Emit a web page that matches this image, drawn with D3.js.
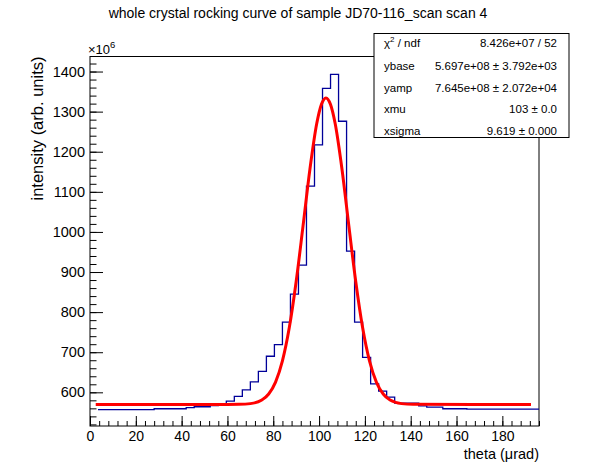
<!DOCTYPE html>
<html>
<head>
<meta charset="utf-8">
<script src="https://cdn.jsdelivr.net/npm/d3@7"></script>
<style>
  body { margin: 0; background: #fff; }
  svg { font-family: "Liberation Sans", Arial, sans-serif; }
</style>
</head>
<body>
<div id="chart"></div>
<script>
/* CONSTANTS AND GLOBALS */
const width = 598,
  height = 474,
  margin = { top: 56.5, bottom: 48, left: 90, right: 59 };

/* DATA */
// histogram: 56 bins of 3.5 µrad, contents in units of 10^6 (first bin empty)
const binWidth = 3.5;
const counts = [
  null, 557, 557, 557, 557, 557, 557, 557,
  559, 559, 559, 559, 562, 564, 564, 567,
  572, 578, 590, 606, 626, 652, 690, 719,
  775, 845, 917, 1114, 1217, 1358, 1393, 1276,
  952, 775, 687, 621, 603, 588, 573, 573,
  573, 566, 563, 563, 559, 559, 559, 558,
  558, 558, 558, 558, 558, 558, 558, 558
];

// fitted curve
const fitTheta = [2.5, 60, 65, 70, 75, 78, 81, 84, 87, 90, 93, 96, 99, 101, 103,
  105, 107, 110, 113, 116, 119, 122, 125, 128, 131, 136, 141, 192.5];
const fitValue = [569.7, 569.7, 570.0, 571.8, 580.7, 595.8, 625.6, 678.3, 761.4, 876.4, 1015.0, 1156.4, 1270.9, 1317.8, 1334.2,
  1317.8, 1270.9, 1156.4, 1015.0, 876.4, 761.4, 678.3, 625.6, 595.8, 580.7, 571.8, 570.0, 569.7];

// stats box
const statNames = ["ybase", "yamp", "xmu", "xsigma"];
const statValues = ["5.697e+08 \u00b1 3.792e+03", "7.645e+08 \u00b1 2.072e+04", "103 \u00b1 0.0", "9.619 \u00b1 0.000"];
const chi2ndf = "8.426e+07 / 52";

// ticks
const xTicks = [0, 20, 40, 60, 80, 100, 120, 140, 160, 180];
const yTicks = [600, 700, 800, 900, 1000, 1100, 1200, 1300, 1400];

/* SCALES */
const xScale = d3.scaleLinear()
  .domain([0, 196])
  .range([margin.left, width - margin.right]);

const yScale = d3.scaleLinear()
  .domain([516, 1437.5])
  .range([height - margin.bottom, margin.top]);

/* SVG */
const svg = d3.select("#chart")
  .append("svg")
  .attr("width", width)
  .attr("height", height);

// title
svg.append("text")
  .attr("x", 298)
  .attr("y", 18)
  .attr("text-anchor", "middle")
  .attr("font-size", 14)
  .text("whole crystal rocking curve of sample JD70-116_scan scan 4");

// x axis, ticks pointing into the frame
const xAxis = d3.axisBottom(xScale)
  .tickValues(xTicks)
  .tickSizeInner(-10)
  .tickSizeOuter(0)
  .tickPadding(5.5)
  .tickFormat(d3.format("d"));

const xMinor = d3.axisBottom(xScale)
  .tickValues(d3.range(0, 197, 4))
  .tickSizeInner(-5)
  .tickSizeOuter(0)
  .tickFormat("");

svg.append("g")
  .attr("class", "x-minor")
  .attr("transform", `translate(0,${height - margin.bottom})`)
  .call(xMinor);

svg.append("g")
  .attr("class", "axis x-axis")
  .attr("transform", `translate(0,${height - margin.bottom})`)
  .call(xAxis);

// y axis
const yAxis = d3.axisLeft(yScale)
  .tickValues(yTicks)
  .tickSizeInner(-13)
  .tickSizeOuter(0)
  .tickPadding(5)
  .tickFormat(d3.format("d"));

const yMinor = d3.axisLeft(yScale)
  .tickValues(d3.range(520, 1430, 20))
  .tickSizeInner(-6.5)
  .tickSizeOuter(0)
  .tickFormat("");

svg.append("g")
  .attr("class", "y-minor")
  .attr("transform", `translate(${margin.left},0)`)
  .call(yMinor);

svg.append("g")
  .attr("class", "axis y-axis")
  .attr("transform", `translate(${margin.left},0)`)
  .call(yAxis);

svg.selectAll(".domain").remove();
svg.selectAll(".tick line").attr("stroke", "#000");
svg.selectAll(".tick text")
  .attr("font-size", 14.5)
  .attr("font-family", "Liberation Sans, Arial, sans-serif")
  .attr("fill", "#000");
svg.selectAll(".x-axis .tick text").attr("font-size", 14);

// frame
svg.append("rect")
  .attr("x", margin.left)
  .attr("y", margin.top)
  .attr("width", width - margin.left - margin.right)
  .attr("height", height - margin.top - margin.bottom)
  .attr("fill", "none")
  .attr("stroke", "#000")
  .attr("stroke-width", 1);

// exponent label
const expo = svg.append("text")
  .attr("x", 88)
  .attr("y", 54)
  .attr("font-size", 13);
expo.append("tspan").text("\u00d710");
expo.append("tspan").attr("dy", -6).attr("font-size", 9.5).text("6");

// axis titles
svg.append("text")
  .attr("x", width - margin.right)
  .attr("y", 459)
  .attr("text-anchor", "end")
  .attr("font-size", 14.5)
  .text("theta (\u03bcrad)");

svg.append("text")
  .attr("transform", `translate(43,${margin.top}) rotate(-90)`)
  .attr("text-anchor", "end")
  .attr("font-size", 16.5)
  .text("intensity (arb. units)");

/* HISTOGRAM */
const histPoints = [];
counts.forEach((c, i) => {
  if (c !== null) histPoints.push([i * binWidth, c]);
});
histPoints.push([counts.length * binWidth, counts[counts.length - 1]]);

const stepLine = d3.line()
  .x(d => xScale(d[0]))
  .y(d => yScale(d[1]))
  .curve(d3.curveStepAfter);

svg.append("path")
  .datum(histPoints)
  .attr("fill", "none")
  .attr("stroke", "#000099")
  .attr("stroke-width", 1.3)
  .attr("d", stepLine);

/* FIT */
const fitLine = d3.line()
  .x((d, i) => xScale(fitTheta[i]))
  .y(d => yScale(d))
  .curve(d3.curveMonotoneX);

svg.append("path")
  .datum(fitValue)
  .attr("fill", "none")
  .attr("stroke", "#ff0000")
  .attr("stroke-width", 3)
  .attr("d", fitLine);

/* STATS BOX */
const box = { x: 374, y: 33.5, w: 195, h: 104 };
svg.append("rect")
  .attr("x", box.x)
  .attr("y", box.y)
  .attr("width", box.w)
  .attr("height", box.h)
  .attr("fill", "#fff")
  .attr("stroke", "#000")
  .attr("stroke-width", 1);

const rowY = [47, 70, 91.5, 113, 134.5];

const chiLabel = svg.append("text")
  .attr("x", 384)
  .attr("y", rowY[0])
  .attr("font-size", 11.5);
chiLabel.append("tspan").text("\u03c7");
chiLabel.append("tspan").attr("dy", -5).attr("font-size", 8).text("2");
chiLabel.append("tspan").attr("dy", 5).text(" / ndf");

svg.append("text")
  .attr("x", 557)
  .attr("y", rowY[0])
  .attr("text-anchor", "end")
  .attr("font-size", 11.5)
  .text(chi2ndf);

statNames.forEach((name, i) => {
  svg.append("text")
    .attr("x", 384)
    .attr("y", rowY[i + 1])
    .attr("font-size", 11.5)
    .text(name);
  svg.append("text")
    .attr("x", 557)
    .attr("y", rowY[i + 1])
    .attr("text-anchor", "end")
    .attr("font-size", 11.5)
    .text(statValues[i]);
});
</script>
</body>
</html>
